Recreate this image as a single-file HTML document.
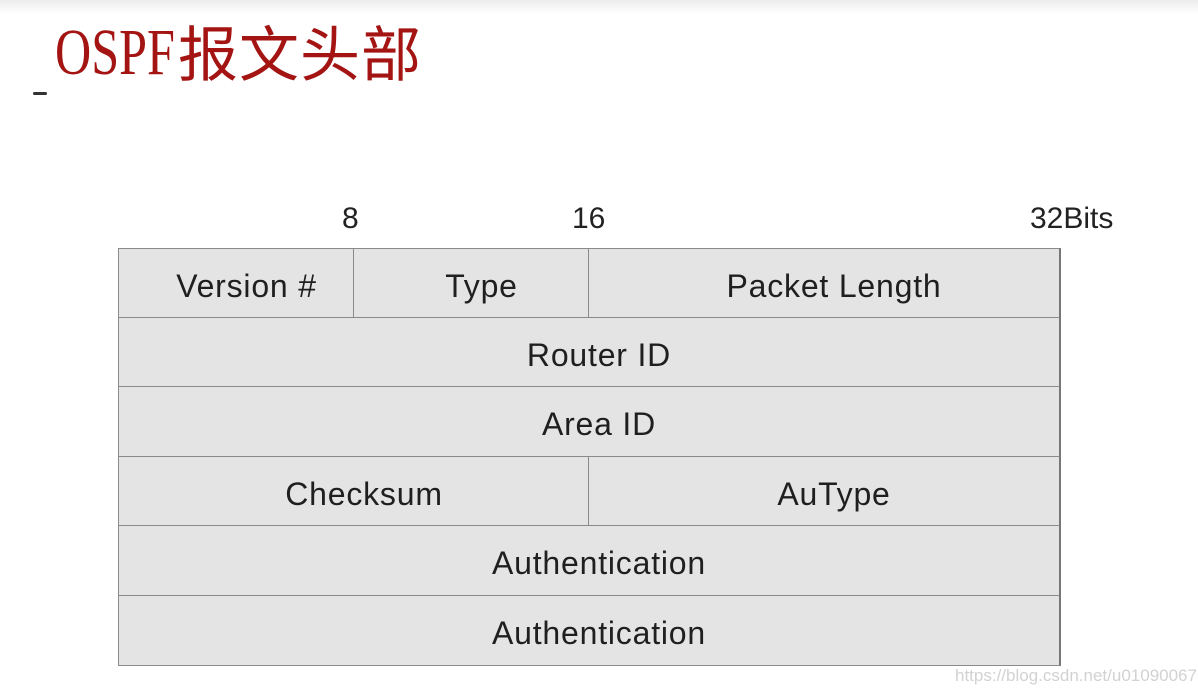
<!DOCTYPE html>
<html><head><meta charset="utf-8"><style>
html,body{margin:0;padding:0;background:#fff;width:1198px;height:695px;overflow:hidden;position:relative;font-family:"Liberation Sans",sans-serif}
.top{position:absolute;left:0;top:0;width:1198px;height:14px;background:linear-gradient(#ececec,#fff)}
.en{position:absolute;left:55px;top:18px;font-family:"Liberation Serif",serif;font-size:66px;line-height:70px;color:#a31412;transform:scaleX(0.76);transform-origin:left top;white-space:nowrap}
.zh{position:absolute;left:178px;top:14px;font-family:"Noto Sans CJK SC",sans-serif;font-size:60px;line-height:74px;color:#a31412;letter-spacing:1px;white-space:nowrap}
.num{position:absolute;top:202px;font-size:30px;color:#222}
.c{position:absolute;background:#e4e4e4;border:1.5px solid #8a8a8a;box-sizing:border-box;display:flex;align-items:center;justify-content:center;font-size:32px;letter-spacing:0.8px;color:#1f1f1f;padding-left:20px;padding-top:5px}
.wm{position:absolute;left:955px;top:666px;font-size:17px;color:#d2d2d2}
</style></head><body>
<div class="top"></div>
<div class="en">OSPF</div>
<div class="zh">报文头部</div>
<div style="position:absolute;left:33px;top:92px;width:14px;height:3px;background:#333;border-radius:2px"></div>
<div class="num" style="left:342px">8</div>
<div class="num" style="left:572px">16</div>
<div class="num" style="left:1030px">32Bits</div>

<div class="c" style="left:118px;top:248px;width:237px;height:71px">Version #</div>
<div class="c" style="left:353px;top:248px;width:237px;height:71px">Type</div>
<div class="c" style="left:588px;top:248px;width:473px;height:71px;border-right:2.5px solid #777">Packet Length</div>
<div class="c" style="left:118px;top:317px;width:943px;height:71px;border-right:2.5px solid #777">Router ID</div>
<div class="c" style="left:118px;top:386px;width:943px;height:72px;border-right:2.5px solid #777">Area ID</div>
<div class="c" style="left:118px;top:456px;width:472px;height:71px">Checksum</div>
<div class="c" style="left:588px;top:456px;width:473px;height:71px;border-right:2.5px solid #777">AuType</div>
<div class="c" style="left:118px;top:525px;width:943px;height:72px;border-right:2.5px solid #777">Authentication</div>
<div class="c" style="left:118px;top:595px;width:943px;height:71px;border-right:2.5px solid #777">Authentication</div>
<div class="wm">https://blog.csdn.net/u010900673</div>
</body></html>
